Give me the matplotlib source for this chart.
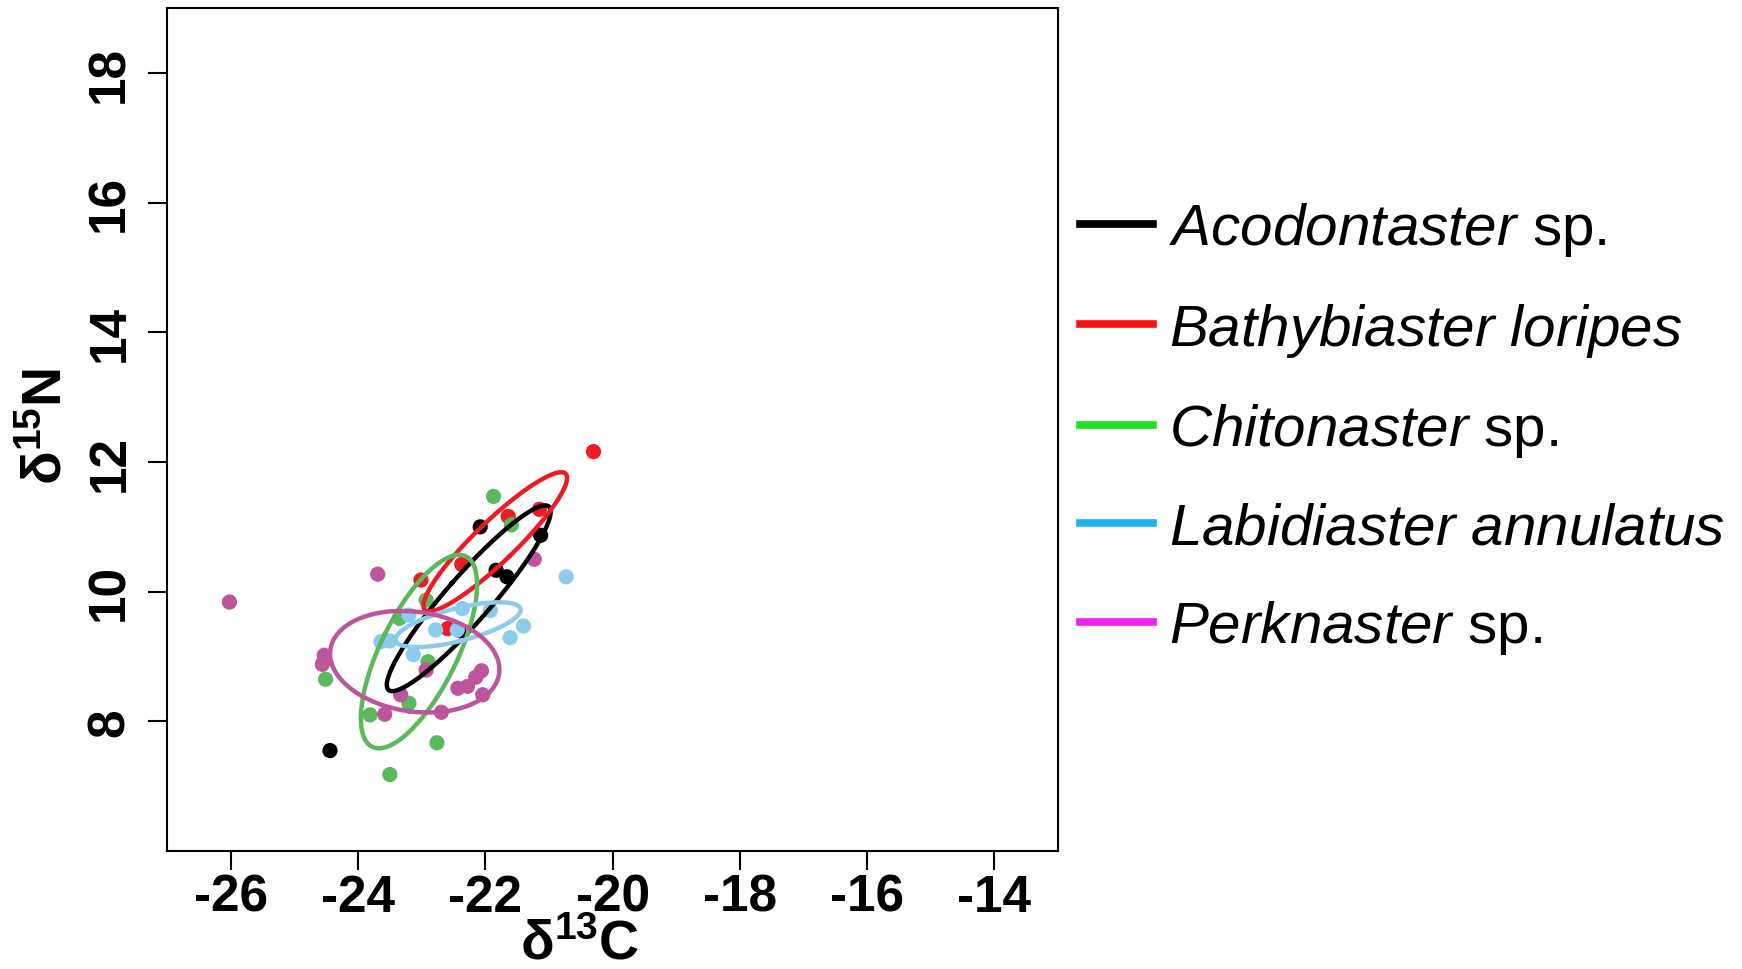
import numpy as np
import matplotlib
matplotlib.use("Agg")
from matplotlib import pyplot as plt
from matplotlib.lines import Line2D

plt.rcParams['font.family'] = ['Liberation Sans', 'DejaVu Sans']
plt.rcParams['mathtext.fontset'] = 'custom'
plt.rcParams['mathtext.rm'] = 'Liberation Sans'
plt.rcParams['mathtext.it'] = 'Liberation Sans:italic'
plt.rcParams['mathtext.bf'] = 'Liberation Sans:bold'

# species and their plotting colours
species = ['Acodontaster', 'Bathybiaster', 'Chitonaster', 'Labidiaster', 'Perknaster']
legend_labels = [r'$\mathit{Acodontaster}$ sp.',
                 r'$\mathit{Bathybiaster\ loripes}$',
                 r'$\mathit{Chitonaster}$ sp.',
                 r'$\mathit{Labidiaster\ annulatus}$',
                 r'$\mathit{Perknaster}$ sp.']
point_colors = ['#000000', '#EC1C24', '#5CB85C', '#8DCBED', '#BC559C']
legend_colors = ['#000000', '#FF1010', '#22E022', '#1EB4F0', '#F020F0']

# d13C / d15N values
acod_c = [-24.44, -22.08, -21.13, -21.83, -21.66, -22.42]
acod_n = [7.55, 11.00, 10.87, 10.33, 10.23, 9.41]

bath_c = [-20.30, -21.64, -21.15, -22.37, -23.01, -22.59]
bath_n = [12.16, 11.16, 11.27, 10.42, 10.18, 9.43]

chit_c = [-21.87, -21.59, -22.93, -23.35, -22.90, -24.51, -23.20, -23.81, -22.76, -23.50]
chit_n = [11.47, 11.03, 9.87, 9.59, 8.92, 8.65, 8.28, 8.10, 7.67, 7.18]

labi_c = [-20.73, -23.20, -22.36, -22.78, -22.44, -23.64, -23.50, -23.13, -21.92, -21.40, -21.61]
labi_n = [10.23, 9.64, 9.74, 9.41, 9.41, 9.23, 9.24, 9.03, 9.71, 9.47, 9.29]

perk_c = [-26.02, -23.69, -21.23, -24.53, -24.56, -22.93, -22.06, -22.15, -22.28, -22.43,
          -22.04, -23.33, -22.69, -23.58]
perk_n = [9.84, 10.27, 10.50, 9.02, 8.88, 8.79, 8.78, 8.68, 8.54, 8.51, 8.41, 8.41, 8.14, 8.11]

xs = [acod_c, bath_c, chit_c, labi_c, perk_c]
ys = [acod_n, bath_n, chit_n, labi_n, perk_n]

x_ticks = [-26, -24, -22, -20, -18, -16, -14]
y_ticks = [8, 10, 12, 14, 16, 18]


def standard_ellipse(x, y, n=200):
    # small-sample corrected standard ellipse (SEAc, as in SIBER)
    x = np.asarray(x)
    y = np.asarray(y)
    k = len(x)
    cov = np.cov(x, y) * (k - 1) / (k - 2)
    vals, vecs = np.linalg.eigh(cov)
    t = np.linspace(0, 2 * np.pi, n)
    circ = np.vstack([np.cos(t), np.sin(t)])
    pts = vecs @ (np.sqrt(vals)[:, None] * circ)
    return x.mean() + pts[0], y.mean() + pts[1]


fig = plt.figure(figsize=(17.42, 9.70), dpi=100)
ax = fig.add_axes([0.0959, 0.1216, 0.5115, 0.869])

for x, y, col in zip(xs, ys, point_colors):
    ax.scatter(x, y, s=120, color=col, edgecolors='none', zorder=2)

for x, y, col in zip(xs, ys, point_colors):
    ex, ey = standard_ellipse(x, y)
    ax.plot(ex, ey, color=col, lw=3.2, zorder=3)

ax.set_xlim(-27, -13)
ax.set_ylim(6, 19)
ax.set_xticks(x_ticks)
ax.set_yticks(y_ticks)
ax.set_xticklabels([str(v) for v in x_ticks], fontsize=37, fontweight='bold')
ax.set_yticklabels([str(v) for v in y_ticks], fontsize=37, fontweight='bold',
                   rotation=90, va='center')
ax.tick_params(axis='both', direction='out', length=13.5, width=1.5)
ax.tick_params(axis='x', pad=2)
ax.tick_params(axis='y', pad=10)
for sp in ax.spines.values():
    sp.set_linewidth(1.5)

fig.text(0.333, 0.025, r'$\mathbf{\delta^{13}C}$', fontsize=40, ha='center', va='center')
fig.text(0.027, 0.56, r'$\mathbf{\delta^{15}N}$', fontsize=40, ha='center', va='center',
         rotation=90)

handles = [Line2D([0], [0], color=c, lw=5.5) for c in legend_colors]
fig.legend(handles, legend_labels, loc='center left', bbox_to_anchor=(0.62, 0.5575),
           frameon=False, fontsize=42, handlelength=1.25, handletextpad=0.28,
           labelspacing=0.73, borderpad=0, borderaxespad=0)

fig.savefig('out.png', dpi=100)
